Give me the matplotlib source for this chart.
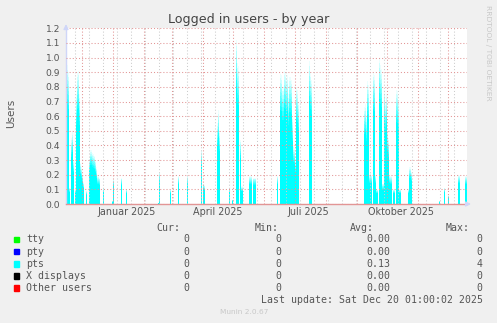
import numpy as np
import pandas as pd
import matplotlib
matplotlib.use('Agg')
import matplotlib.pyplot as plt
import matplotlib.dates as mdates
from matplotlib.patches import Rectangle

W, H = 497, 323

# 400 day window, as munin draws it
window_start = '2024-11-15 01:00'
window_end = '2025-12-20 01:00'

pts_dates = [
    '2024-11-15', '2024-11-16', '2024-11-17', '2024-11-18', '2024-11-20', '2024-11-21',
    '2024-11-22', '2024-11-24', '2024-11-25', '2024-11-26', '2024-11-27', '2024-11-28',
    '2024-11-29', '2024-11-30', '2024-12-01', '2024-12-02', '2024-12-05', '2024-12-08',
    '2024-12-09', '2024-12-10', '2024-12-11', '2024-12-12', '2024-12-13', '2024-12-14',
    '2024-12-15', '2024-12-16', '2024-12-17', '2024-12-18', '2024-12-22', '2024-12-31',
    '2025-01-01', '2025-01-09', '2025-01-14', '2025-02-15', '2025-02-16', '2025-02-27',
    '2025-03-07', '2025-03-16', '2025-03-30', '2025-04-01', '2025-04-02', '2025-04-15',
    '2025-04-16', '2025-04-17', '2025-04-27', '2025-04-30', '2025-05-04', '2025-05-05',
    '2025-05-06', '2025-05-08', '2025-05-09', '2025-05-10', '2025-05-17', '2025-05-18',
    '2025-05-19', '2025-05-21', '2025-05-22', '2025-05-23', '2025-06-14', '2025-06-17',
    '2025-06-18', '2025-06-19', '2025-06-20', '2025-06-21', '2025-06-22', '2025-06-23',
    '2025-06-24', '2025-06-25', '2025-06-26', '2025-06-27', '2025-06-28', '2025-06-29',
    '2025-06-30', '2025-07-01', '2025-07-02', '2025-07-03', '2025-07-04', '2025-07-15',
    '2025-07-16', '2025-07-17', '2025-09-08', '2025-09-09', '2025-09-10', '2025-09-11',
    '2025-09-12', '2025-09-13', '2025-09-14', '2025-09-15', '2025-09-17', '2025-09-18',
    '2025-09-19', '2025-09-20', '2025-09-21', '2025-09-23', '2025-09-24', '2025-09-25',
    '2025-09-26', '2025-09-27', '2025-09-28', '2025-09-29', '2025-09-30', '2025-10-01',
    '2025-10-02', '2025-10-03', '2025-10-04', '2025-10-05', '2025-10-07', '2025-10-08',
    '2025-10-10', '2025-10-11', '2025-10-12', '2025-10-13', '2025-10-14', '2025-10-22',
    '2025-10-23', '2025-10-24', '2025-10-25', '2025-11-22', '2025-11-27', '2025-12-01',
    '2025-12-11', '2025-12-12', '2025-12-18', '2025-12-19',
]
pts_users = [
    0.96, 0.95, 0.90, 0.11, 0.45, 0.49,
    0.30, 0.10, 0.75, 0.90, 0.91, 0.75,
    0.28, 0.25, 0.20, 0.15, 0.09, 0.31,
    0.37, 0.37, 0.35, 0.34, 0.33, 0.30,
    0.25, 0.19, 0.19, 0.18, 0.11, 0.02,
    0.17, 0.18, 0.10, 0.01, 0.22, 0.10,
    0.19, 0.19, 0.37, 0.14, 0.13, 0.55,
    0.64, 0.50, 0.11, 0.03, 1.12, 0.96,
    0.94, 0.44, 0.12, 0.12, 0.19, 0.19,
    0.19, 0.18, 0.18, 0.18, 0.19, 0.89,
    0.88, 0.80, 0.91, 0.90, 0.86, 0.88,
    0.75, 0.87, 0.87, 0.85, 0.60, 0.40,
    0.38, 0.30, 0.80, 0.78, 0.70, 0.98,
    0.90, 0.85, 0.66, 0.68, 0.60, 0.84,
    0.81, 0.20, 0.21, 0.20, 0.90, 0.88,
    0.20, 0.10, 0.10, 1.00, 0.95, 0.92,
    0.14, 0.14, 0.78, 0.70, 0.75, 0.50,
    0.45, 0.20, 0.19, 0.19, 0.10, 0.10,
    0.78, 0.77, 0.70, 0.10, 0.10, 0.10,
    0.25, 0.25, 0.22, 0.02, 0.11, 0.06,
    0.20, 0.20, 0.19, 0.19,
]

month_labels = ['Januar 2025', 'April 2025', 'Juli 2025', 'Oktober 2025']
month_label_dates = ['2025-01-15', '2025-04-15', '2025-07-15', '2025-10-15']

legend_names = ['tty', 'pty', 'pts', 'X displays', 'Other users']
legend_colors = ['#00FF00', '#0000FF', '#00FFFF', '#000000', '#FF0000']
cur_vals = ['0', '0', '0', '0', '0']
min_vals = ['0', '0', '0', '0', '0']
avg_vals = ['0.00', '0.00', '0.13', '0.00', '0.00']
max_vals = ['0', '0', '4', '0', '0']

font_col = '#555555'
axis_col = '#CFD6F8'
mgrid_col = '#E29595'
grid_col = '#CCCCCC'


def fx(x):
    return x / W


def fy(y):
    return 1 - y / H


fig = plt.figure(figsize=(W / 100, H / 100), dpi=100, facecolor='#F0F0F0')
ax = fig.add_axes([fx(66), fy(204), (467 - 66) / W, (204 - 28.3) / H])
ax.set_facecolor('white')

dates = pd.to_datetime(pts_dates)
vals = np.array(pts_users)

# area with a fade to white towards each peak
fade_from = 0.72
steps = 8
ax.bar(dates, vals * fade_from, width=1.0, align='edge', color='#00FFFF', linewidth=0, zorder=1)
for k in range(steps):
    t = (k + 1) / steps
    col = (0.92 * t, 1.0, 1.0)
    lo = fade_from + (1 - fade_from) * k / steps
    ax.bar(dates, vals * (1 - fade_from) / steps, bottom=vals * lo, width=1.0,
           align='edge', color=col, linewidth=0, zorder=1)

ax.set_xlim(pd.Timestamp(window_start), pd.Timestamp(window_end))
ax.set_ylim(0, 1.2)

# grid: red month lines, grey two-week lines, red lines every 0.1
ax.xaxis.set_major_locator(mdates.MonthLocator())
ax.set_xticks(pd.date_range('2024-11-24', '2025-12-20', freq='14D'), minor=True)
ax.xaxis.set_major_formatter(plt.NullFormatter())
ax.set_yticks(np.arange(0, 1.21, 0.1))
ax.set_yticklabels(['%.1f' % v for v in np.arange(0, 1.21, 0.1)])
ax.grid(True, which='minor', axis='x', color=grid_col, linestyle=(0, (1, 2)), linewidth=0.75)
ax.grid(True, which='major', axis='both', color=mgrid_col, linestyle=(0, (1, 2)), linewidth=0.75)
ax.set_axisbelow(False)
ax.tick_params(axis='both', which='both', length=0)
ax.tick_params(axis='y', labelsize=6.6, labelcolor=font_col, pad=4.3)

for lbl, d in zip(month_labels, month_label_dates):
    ax.text(pd.Timestamp(d), -0.045, lbl, transform=ax.get_xaxis_transform(),
            ha='center', va='center', fontsize=6.9, color=font_col)

for s in ['top', 'right']:
    ax.spines[s].set_visible(False)
ax.spines['left'].set_color(axis_col)
ax.spines['left'].set_linewidth(1)
ax.spines['bottom'].set_color(mgrid_col)
ax.spines['bottom'].set_linewidth(1)
ax.annotate('', xy=(0, 1.04), xytext=(0, 0.99), xycoords='axes fraction',
            arrowprops=dict(arrowstyle='-|>', color=axis_col, lw=1, mutation_scale=7))
ax.annotate('', xy=(1.017, 0), xytext=(0.995, 0), xycoords='axes fraction',
            arrowprops=dict(arrowstyle='-|>', color=axis_col, lw=1, mutation_scale=7))

fig.text(fx(248.8), fy(19.5), 'Logged in users - by year', ha='center', va='center',
         fontsize=9.1, color='#444444')
fig.text(fx(10.8), fy(113), 'Users', rotation=90, ha='center', va='center',
         fontsize=7.5, color=font_col)
fig.text(fx(488), fy(53), 'RRDTOOL / TOBI OETIKER', rotation=270, ha='center', va='center',
         fontsize=5.4, color='#C8C8C8')

# legend table
mono = 'DejaVu Sans Mono'
fs = 7.1
fig.text(fx(180.5), fy(228.3), 'Cur:', ha='right', va='center', family=mono, fontsize=fs, color=font_col)
fig.text(fx(278.5), fy(228.3), 'Min:', ha='right', va='center', family=mono, fontsize=fs, color=font_col)
fig.text(fx(373.5), fy(228.3), 'Avg:', ha='right', va='center', family=mono, fontsize=fs, color=font_col)
fig.text(fx(470), fy(228.3), 'Max:', ha='right', va='center', family=mono, fontsize=fs, color=font_col)
row_y = [239.5, 251.7, 263.8, 276, 287.8]
for i, name in enumerate(legend_names):
    y = row_y[i]
    fig.patches.append(Rectangle((fx(14), fy(y + 2.7)), 5.3 / W, 5.3 / H,
                                 transform=fig.transFigure, color=legend_colors[i]))
    fig.text(fx(26), fy(y), name, ha='left', va='center', family=mono, fontsize=fs, color=font_col)
    fig.text(fx(189.5), fy(y), cur_vals[i], ha='right', va='center', family=mono, fontsize=fs, color=font_col)
    fig.text(fx(281.2), fy(y), min_vals[i], ha='right', va='center', family=mono, fontsize=fs, color=font_col)
    fig.text(fx(390.8), fy(y), avg_vals[i], ha='right', va='center', family=mono, fontsize=fs, color=font_col)
    fig.text(fx(482.8), fy(y), max_vals[i], ha='right', va='center', family=mono, fontsize=fs, color=font_col)

fig.text(fx(482.8), fy(299.8), 'Last update: Sat Dec 20 01:00:02 2025', ha='right', va='center',
         family=mono, fontsize=fs, color=font_col)
fig.text(fx(244), fy(312.3), 'Munin 2.0.67', ha='center', va='center', fontsize=5.3, color='#C8C8C8')

fig.savefig('out.png', dpi=100, facecolor=fig.get_facecolor())
